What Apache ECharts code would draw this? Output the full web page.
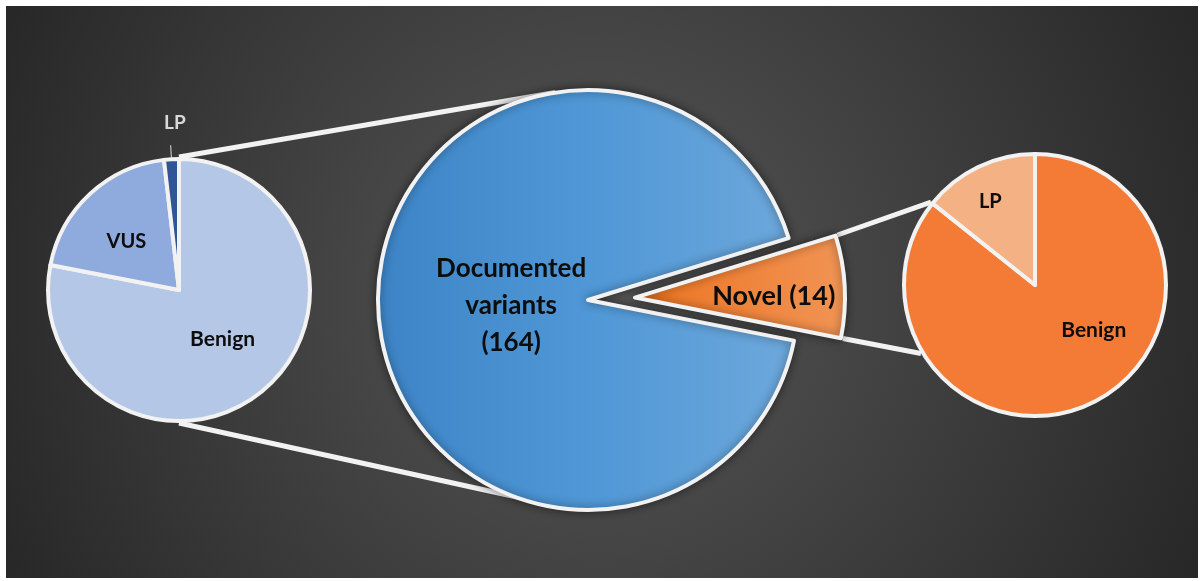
<!DOCTYPE html>
<html><head><meta charset="utf-8">
<script src="https://cdn.jsdelivr.net/npm/echarts@6/dist/echarts.min.js"></script>
<style>html,body{margin:0;padding:0;background:#fff}#c{width:1200px;height:581px}</style>
</head><body><div id="c"></div>
<script>
// ---- data ----
const mainCategories = ['Documented\nvariants', 'Novel'];
const mainValues = [164, 14];
const documentedCategories = ['Benign', 'VUS', 'LP'];
const documentedValues = [128, 33, 3];
const novelCategories = ['Benign', 'LP'];
const novelValues = [12, 2];

// ---- layout ----
const L = {cx: 179, cy: 290, r: 131};
const M = {cx: 588, cy: 300, r: 210, offset: 47};
const R = {cx: 1035, cy: 285, r: 131};
const FONT = 'Lato';

const mainTotal = mainValues[0] + mainValues[1];
const novelSweep = 360 * mainValues[1] / mainTotal;
const novelMid = 3;
const mainStart = novelMid + novelSweep / 2;
const rad = d => d * Math.PI / 180;
const pt = (c, r, d) => [c.cx + r * Math.cos(rad(d)), c.cy - r * Math.sin(rad(d))];
const novelC = {cx: M.cx + M.offset * Math.cos(rad(novelMid)), cy: M.cy - M.offset * Math.sin(rad(novelMid))};
const rightLpEdge = 90 + 360 * novelValues[1] / (novelValues[0] + novelValues[1]);

const connectors = [
  [pt(L, L.r + 2, 90), pt(M, M.r, 99)],
  [pt(L, L.r + 2, 270), pt(M, M.r - 2, 261)],
  [pt(novelC, M.r + 2, mainStart), pt(R, R.r + 2, rightLpEdge)],
  [pt(novelC, M.r + 2, mainStart - novelSweep), pt(R, R.r + 2, 211)]
];

// label nudges (dx, dy) per data index
const leftShift = [[0, -4], [-6, 2], [15, -22]];
const mainShift = [[31, 4], [31, 0]];
const rightShift = [[29, -16], [-15, -22]];
const shiftFn = arr => p => { const s = arr[p.dataIndex]; return s ? {dx: s[0], dy: s[1]} : null; };

const chart = echarts.init(document.getElementById('c'), null, {renderer: 'canvas'});

const lbl = (extra) => Object.assign({
  show: true, position: 'inside', fontFamily: FONT, fontWeight: 'bold', color: '#0d0d0d', fontSize: 20
}, extra);

const leftColors = ['#b4c7e7', '#8faadc', '#2f5597'];
const leftFont = [21, 20, 19];
const rightColors = ['#f47b36', '#f4b183'];
const rightFont = [21, 20];

chart.setOption({
  animation: false,
  graphic: [
    {type: 'rect', z: -10, shape: {x: 6, y: 6, width: 1192, height: 572},
     style: {fill: new echarts.graphic.RadialGradient(600, 292, 650, [
       {offset: 0, color: '#575757'}, {offset: 1, color: '#282828'}], true)}},
    ...connectors.map(c => ({type: 'line', z: -5,
      shape: {x1: c[0][0], y1: c[0][1], x2: c[1][0], y2: c[1][1]},
      style: {stroke: '#f2f2f2', lineWidth: 5}}))
  ],
  series: [
    {
      type: 'pie', center: [L.cx, L.cy], radius: [0, L.r], startAngle: 90, clockwise: true,
      silent: true, avoidLabelOverlap: false,
      itemStyle: {borderColor: '#f2f2f2', borderWidth: 4},
      labelLine: {show: false},
      data: documentedCategories.map((n, i) => {
        const d = {name: n, value: documentedValues[i], itemStyle: {color: leftColors[i]},
          label: lbl({fontSize: leftFont[i]})};
        if (i === 2) {
          d.label = lbl({position: 'outside', color: '#d9d9d9', fontSize: leftFont[i], distanceToLabelLine: 0});
          d.labelLine = {show: true, length: 14, length2: 0, lineStyle: {color: '#d9d9d9', width: 1}};
        }
        return d;
      }),
      labelLayout: shiftFn(leftShift)
    },
    {
      type: 'pie', center: [M.cx, M.cy], radius: [0, M.r], startAngle: mainStart, clockwise: true,
      silent: true, selectedMode: 'single', selectedOffset: M.offset, avoidLabelOverlap: false,
      itemStyle: {borderColor: '#f2f2f2', borderWidth: 4, shadowBlur: 10, shadowColor: 'rgba(0,0,0,0.45)'},
      labelLine: {show: false},
      labelLayout: shiftFn(mainShift),
      data: [
        {name: mainCategories[1], value: mainValues[1], selected: true,
         itemStyle: {color: new echarts.graphic.LinearGradient(0, 0, 1, 0, [
           {offset: 0, color: '#ec7320'}, {offset: 1, color: '#f19455'}])},
         label: lbl({fontSize: 27, formatter: p => p.name + ' (' + p.value + ')'})},
        {name: mainCategories[0], value: mainValues[0],
         itemStyle: {color: new echarts.graphic.LinearGradient(0, 0, 1, 0, [
           {offset: 0, color: '#3d84c6'}, {offset: 0.5, color: '#4f97d6'}, {offset: 1, color: '#6da8db'}])},
         label: lbl({fontSize: 26, lineHeight: 37, formatter: p => p.name + '\n(' + p.value + ')'})}
      ]
    },
    {
      type: 'pie', center: [R.cx, R.cy], radius: [0, R.r], startAngle: 90, clockwise: true,
      silent: true, avoidLabelOverlap: false,
      itemStyle: {borderColor: '#f2f2f2', borderWidth: 4},
      labelLine: {show: false},
      labelLayout: shiftFn(rightShift),
      data: novelCategories.map((n, i) => ({name: n, value: novelValues[i],
        itemStyle: {color: rightColors[i]}, label: lbl({fontSize: rightFont[i]})}))
    }
  ]
});
</script></body></html>
